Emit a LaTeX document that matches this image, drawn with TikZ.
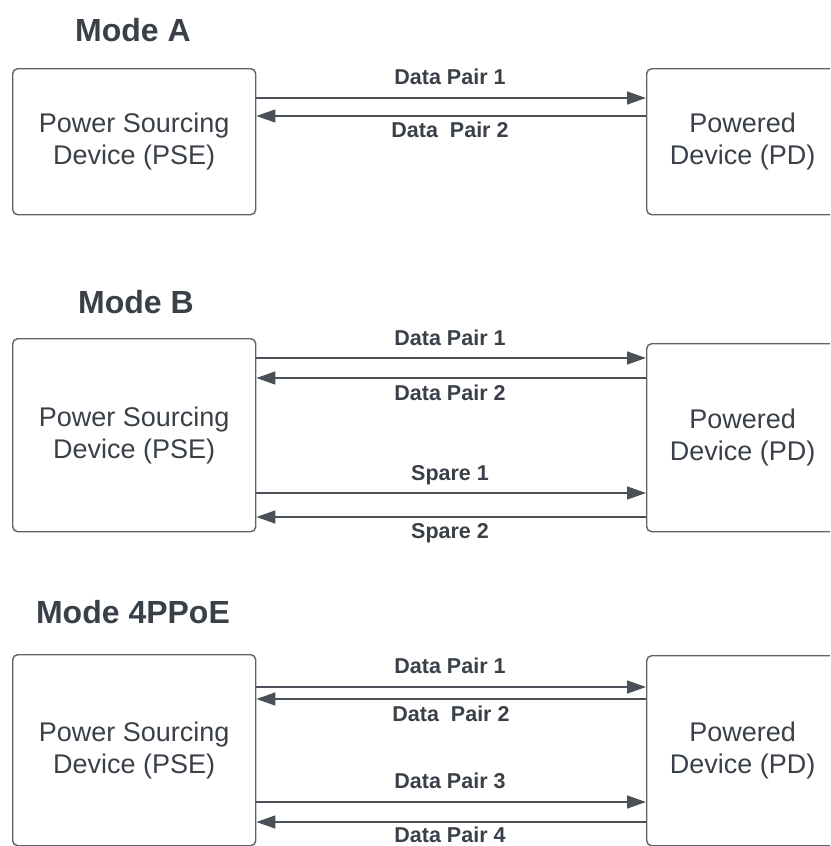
\documentclass[tikz,border=0pt]{standalone}
\usepackage{fontspec}
\setmainfont{Liberation Sans}
\usetikzlibrary{arrows.meta}
\definecolor{ink}{HTML}{3A4048}
\definecolor{edge}{HTML}{5E636A}
\definecolor{wirec}{HTML}{4A5058}
\begin{document}
\begin{tikzpicture}[x=1pt,y=-1pt,
  title/.style={font=\fontsize{32}{38}\selectfont\bfseries, text=ink},
  dev/.style={draw=edge, line width=1.4pt, rounded corners=5pt, anchor=north west,
    inner sep=0pt, align=center, font=\fontsize{27}{32}\selectfont, text=ink},
  lbl/.style={font=\fontsize{21.5}{25}\selectfont\bfseries, text=ink,
    inner sep=0pt, text height=15pt, text depth=0pt},
  wire/.style={draw=wirec, line width=1.5pt, -{Triangle[length=19pt,width=13pt]}}]
\useasboundingbox (0,0) rectangle (830,846);
\clip (0,0) rectangle (830,846);

% ---------- Mode A ----------
\node[title] (tA) at (133,30) {Mode A};
\node[dev, minimum width=243pt, minimum height=146pt] (pseA) at (12,68)
  {Power Sourcing\\Device (PSE)};
\node[dev, minimum width=192pt, minimum height=146pt] (pdA) at (646,68)
  {Powered\\Device (PD)};
\draw[wire] (pseA.east |- 0,98) -- (pdA.west |- 0,98);
\draw[wire] (pdA.west |- 0,116) -- (pseA.east |- 0,116);
\node[lbl] (lA1) at (450,77) {Data Pair 1};
\node[lbl] (lA2) at (450,130) {Data\ \ Pair 2};

% ---------- Mode B ----------
\node[title] (tB) at (136,302) {Mode B};
\node[dev, minimum width=243pt, minimum height=193pt] (pseB) at (12,338)
  {Power Sourcing\\Device (PSE)};
\node[dev, minimum width=192pt, minimum height=188pt] (pdB) at (646,343)
  {Powered\\Device (PD)};
\draw[wire] (pseB.east |- 0,358) -- (pdB.west |- 0,358);
\draw[wire] (pdB.west |- 0,378) -- (pseB.east |- 0,378);
\draw[wire] (pseB.east |- 0,493) -- (pdB.west |- 0,493);
\draw[wire] (pdB.west |- 0,517) -- (pseB.east |- 0,517);
\node[lbl] (lB1) at (450,338) {Data Pair 1};
\node[lbl] (lB2) at (450,393) {Data Pair 2};
\node[lbl] (lB3) at (450,473) {Spare 1};
\node[lbl] (lB4) at (450,531) {Spare 2};

% ---------- Mode 4PPoE ----------
\node[title] (tC) at (133,612) {Mode 4PPoE};
\node[dev, minimum width=243pt, minimum height=191pt] (pseC) at (12,654)
  {Power Sourcing\\Device (PSE)};
\node[dev, minimum width=192pt, minimum height=190pt] (pdC) at (646,655)
  {Powered\\Device (PD)};
\draw[wire] (pseC.east |- 0,687) -- (pdC.west |- 0,687);
\draw[wire] (pdC.west |- 0,699) -- (pseC.east |- 0,699);
\draw[wire] (pseC.east |- 0,802) -- (pdC.west |- 0,802);
\draw[wire] (pdC.west |- 0,822) -- (pseC.east |- 0,822);
\node[lbl] (lC1) at (450,666) {Data Pair 1};
\node[lbl] (lC2) at (451,714) {Data\ \ Pair 2};
\node[lbl] (lC3) at (450,781) {Data Pair 3};
\node[lbl] (lC4) at (450,835) {Data Pair 4};
\end{tikzpicture}
\end{document}
